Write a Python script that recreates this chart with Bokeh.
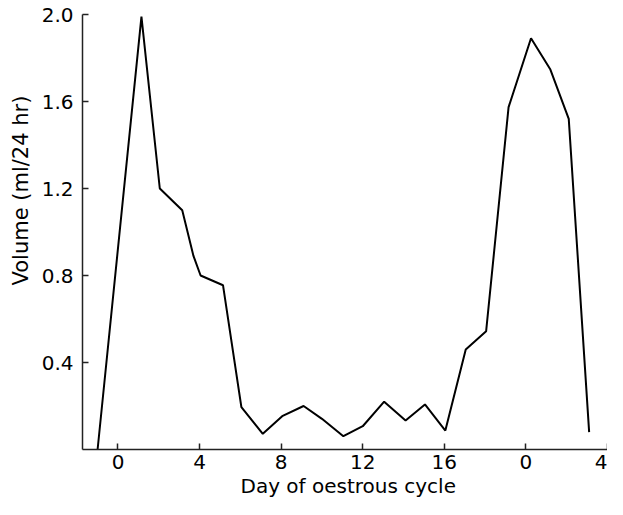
from bokeh.plotting import figure
from bokeh.models import FixedTicker, Range1d, Title
from bokeh.embed import file_html
from bokeh.resources import INLINE

# Data
days = [-1.0, 1.15, 2.05, 3.15, 3.7, 4.05, 5.15, 6.05, 7.1, 8.05, 9.1, 10.0, 11.05,
        12.0, 13.05, 14.1, 15.05, 16.05, 17.05, 18.05, 19.15, 20.25, 21.2, 22.1, 23.1]
volume = [0.0, 1.99, 1.2, 1.1, 0.89, 0.8, 0.755, 0.195, 0.072, 0.153, 0.2, 0.141, 0.061,
          0.107, 0.22, 0.133, 0.207, 0.087, 0.46, 0.544, 1.574, 1.891, 1.747, 1.52, 0.08]

x_ticks = [0, 4, 8, 12, 16, 20, 24]
x_tick_labels = ["0", "4", "8", "12", "16", "0", "4"]
y_ticks = [0.4, 0.8, 1.2, 1.6, 2.0]
y_tick_labels = ["0.4", "0.8", "1.2", "1.6", "2.0"]
x_title = "Day of oestrous cycle"
y_title = "Volume (ml/24 hr)"

FONT = "DejaVu Sans"

p = figure(width=607, height=499, output_backend="svg", toolbar_location=None,
           x_range=Range1d(-1.74, 24.0), y_range=Range1d(0, 2.0),
           min_border_left=82, min_border_right=0, min_border_top=14, min_border_bottom=50)

p.line(days, volume, line_color="black", line_width=2)

p.xgrid.grid_line_color = None
p.ygrid.grid_line_color = None
p.outline_line_color = None
p.background_fill_color = "white"
p.border_fill_color = "white"

for ax in (p.xaxis[0], p.yaxis[0]):
    ax.axis_line_color = "#222222"
    ax.axis_line_width = 1.5
    ax.major_tick_line_color = "#222222"
    ax.major_tick_line_width = 1.5
    ax.major_tick_in = 6
    ax.major_tick_out = 0
    ax.minor_tick_line_color = None
    ax.major_label_text_font = FONT
    ax.major_label_text_font_size = "20px"
    ax.major_label_text_color = "black"

p.xaxis.ticker = FixedTicker(ticks=x_ticks)
p.xaxis.major_label_overrides = {t: l for t, l in zip(x_ticks, x_tick_labels)}
p.xaxis.major_label_standoff = 5
p.yaxis.ticker = FixedTicker(ticks=y_ticks)
p.yaxis.major_label_overrides = {t: l for t, l in zip(y_ticks, y_tick_labels)}
p.yaxis.major_label_standoff = 9

p.add_layout(Title(text=y_title, align="left", offset=164, standoff=12,
                   text_font=FONT, text_font_size="21px", text_font_style="normal",
                   text_color="black"), "left")
p.add_layout(Title(text=x_title, align="left", offset=158, standoff=0,
                   text_font=FONT, text_font_size="20px", text_font_style="normal",
                   text_color="black"), "below")

open("out.html", "w").write(file_html(p, INLINE))
